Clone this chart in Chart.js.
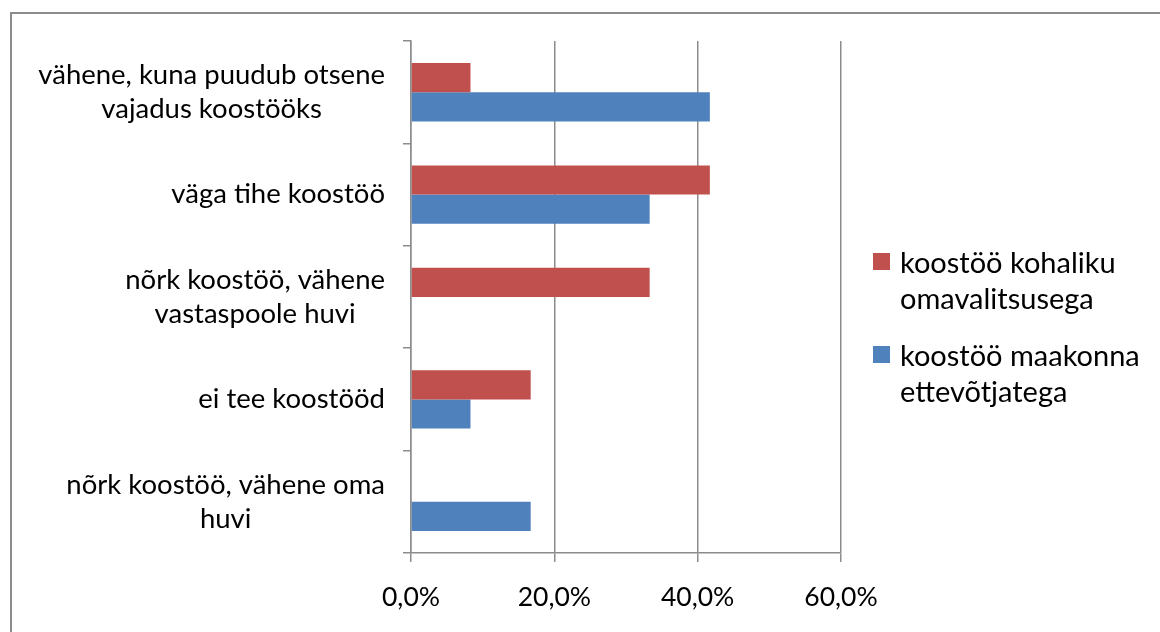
<!DOCTYPE html>
<html>
<head>
<meta charset="utf-8">
<script src="https://cdn.jsdelivr.net/npm/chart.js@4"></script>
<style>
  html, body { margin: 0; padding: 0; background: #fff; overflow: hidden; }
  #wrap { position: relative; width: 1160px; height: 632px; }
  #frame { position: absolute; left: 10px; top: 12px; width: 1200px; height: 700px;
           border: 2px solid #8c8c8c; box-sizing: border-box; }
  #legend { position: absolute; left: 873px; top: 244px; font-family: Lato, sans-serif;
            font-size: 29px; color: #000; line-height: 36px; }
  .item { position: relative; padding-left: 27px; margin-bottom: 21px; }
  .box { position: absolute; left: 0; top: 9px; width: 17px; height: 17px; }
</style>
</head>
<body>
<div id="wrap">
  <div id="frame"></div>
  <canvas id="chart" width="1160" height="632"></canvas>
  <div id="legend"></div>
</div>
<script>
const categories = [
  ['vähene, kuna puudub otsene', 'vajadus koostööks'],
  ['väga tihe koostöö'],
  ['nõrk koostöö, vähene', 'vastaspoole huvi'],
  ['ei tee koostööd'],
  ['nõrk koostöö, vähene oma', 'huvi']
];
const seriesNames = ['koostöö kohaliku omavalitsusega', 'koostöö maakonna ettevõtjatega'];
const legendLines = [['koostöö kohaliku', 'omavalitsusega'], ['koostöö maakonna', 'ettevõtjatega']];
const kohalik = [8.3, 41.7, 33.3, 16.7, 0];
const maakond = [41.7, 33.3, 0, 8.3, 16.7];
const colors = ['#C0504D', '#4F81BD'];

const FONT = 'Lato, sans-serif';
const gridColor = '#8c8c8c';

// category labels: lines centered inside a right-aligned block
const catLabels = {
  id: 'catLabels',
  afterDraw(chart) {
    const ctx = chart.ctx;
    const y = chart.scales.y;
    ctx.save();
    ctx.font = '27.5px ' + FONT;
    ctx.fillStyle = '#000';
    ctx.textAlign = 'center';
    ctx.textBaseline = 'middle';
    const lh = 34;
    categories.forEach((lines, i) => {
      const cy = y.getPixelForTick(i);
      const w = Math.max(...lines.map(l => ctx.measureText(l).width));
      const cx = 385 - w / 2;
      lines.forEach((l, j) => {
        ctx.fillText(l, cx, cy + (j - (lines.length - 1) / 2) * lh);
      });
    });
    ctx.restore();
  }
};

const barChart = new Chart(document.getElementById('chart'), {
  type: 'bar',
  data: {
    labels: categories,
    datasets: [
      { label: seriesNames[0], data: kohalik, backgroundColor: colors[0] },
      { label: seriesNames[1], data: maakond, backgroundColor: colors[1] }
    ]
  },
  options: {
    indexAxis: 'y',
    responsive: false,
    animation: false,
    categoryPercentage: 0.57,
    barPercentage: 1,
    layout: { padding: { left: 403, right: 319, top: 41, bottom: 19 } },
    plugins: { legend: { display: false }, tooltip: { enabled: false } },
    scales: {
      x: {
        min: 0, max: 60,
        afterFit: s => { s.height = 60; },
        ticks: {
          stepSize: 20,
          color: '#000',
          padding: 20,
          font: { family: FONT, size: 26.5 },
          callback: v => v.toFixed(1).replace('.', ',') + '%'
        },
        grid: { color: gridColor, lineWidth: 1.5, tickLength: 9 },
        border: { color: gridColor, width: 1.5 }
      },
      y: {
        afterFit: s => { s.width = 8; },
        ticks: { display: false },
        grid: { color: gridColor, lineWidth: 1.5, drawOnChartArea: false, tickLength: 8 },
        border: { color: gridColor, width: 1.5 }
      }
    }
  },
  plugins: [catLabels]
});

// legend with wrapped names
const legend = document.getElementById('legend');
barChart.data.datasets.forEach((ds, i) => {
  const item = document.createElement('div');
  item.className = 'item';
  item.innerHTML = '<span class="box" style="background:' + ds.backgroundColor + '"></span>' +
    legendLines[i].join('<br>');
  legend.appendChild(item);
});
</script>
</body>
</html>
